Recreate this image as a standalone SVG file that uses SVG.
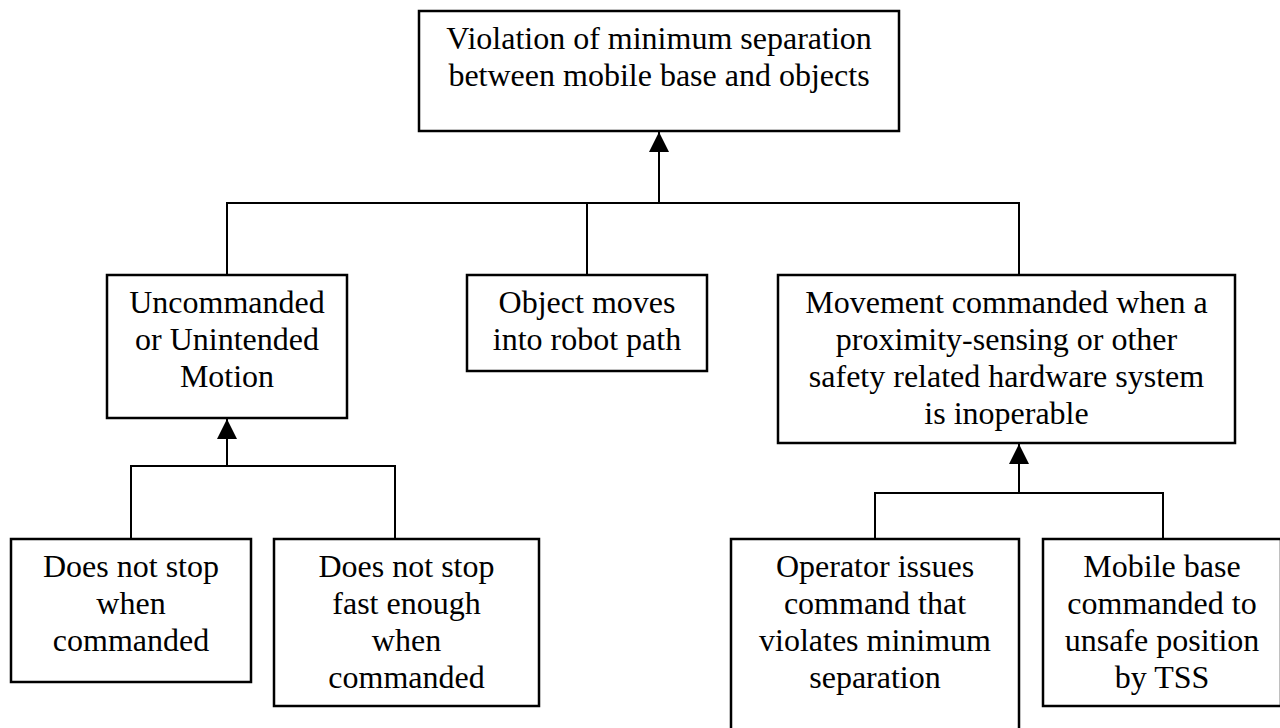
<svg xmlns="http://www.w3.org/2000/svg" width="1280" height="728" viewBox="0 0 1280 728">
  <defs>
    <style>
      .box { fill: #ffffff; stroke: #000000; stroke-width: 2.5; }
      .line { fill: none; stroke: #000000; stroke-width: 2; }
      .label { font-family: "Liberation Serif", "Times New Roman", serif; font-size: 32px; fill: #000000; text-anchor: middle; }
    </style>
    <marker id="arrow" viewBox="0 0 20 20" refX="20" refY="10" markerWidth="20" markerHeight="20" markerUnits="userSpaceOnUse" orient="auto">
      <path d="M0,0 L20,10 L0,20 Z" fill="#000000"/>
    </marker>
  </defs>
  <rect width="1280" height="728" fill="#ffffff"/>

  <g id="connectors">
    <!-- top level: three causes joined to the top event -->
    <polyline class="line" points="227,275 227,203 1019,203 1019,275"/>
    <line class="line" x1="587" y1="203" x2="587" y2="275"/>
    <line class="line" x1="659" y1="203" x2="659" y2="132" marker-end="url(#arrow)"/>
    <!-- uncommanded motion branch -->
    <polyline class="line" points="131,539 131,466 395,466 395,539"/>
    <line class="line" x1="227" y1="466" x2="227" y2="419" marker-end="url(#arrow)"/>
    <!-- inoperable hardware branch -->
    <polyline class="line" points="875,539 875,493 1163,493 1163,539"/>
    <line class="line" x1="1019" y1="493" x2="1019" y2="444" marker-end="url(#arrow)"/>
  </g>

  <g id="top-event">
    <rect class="box" x="419" y="11" width="480" height="120"/>
    <text class="label" x="659" y="49">Violation of minimum separation</text>
    <text class="label" x="659" y="86">between mobile base and objects</text>
  </g>

  <g id="uncommanded-motion">
    <rect class="box" x="107" y="275" width="240" height="143"/>
    <text class="label" x="227" y="313">Uncommanded</text>
    <text class="label" x="227" y="350">or Unintended</text>
    <text class="label" x="227" y="387">Motion</text>
  </g>

  <g id="object-moves">
    <rect class="box" x="467" y="275" width="240" height="96"/>
    <text class="label" x="587" y="313">Object moves</text>
    <text class="label" x="587" y="350">into robot path</text>
  </g>

  <g id="hardware-inoperable">
    <rect class="box" x="778" y="275" width="457" height="168"/>
    <text class="label" x="1006.5" y="313">Movement commanded when a</text>
    <text class="label" x="1006.5" y="350">proximity-sensing or other</text>
    <text class="label" x="1006.5" y="387">safety related hardware system</text>
    <text class="label" x="1006.5" y="424">is inoperable</text>
  </g>

  <g id="no-stop">
    <rect class="box" x="11" y="539" width="240" height="143"/>
    <text class="label" x="131" y="577">Does not stop</text>
    <text class="label" x="131" y="614">when</text>
    <text class="label" x="131" y="651">commanded</text>
  </g>

  <g id="no-stop-fast">
    <rect class="box" x="274" y="539" width="265" height="167"/>
    <text class="label" x="406.5" y="577">Does not stop</text>
    <text class="label" x="406.5" y="614">fast enough</text>
    <text class="label" x="406.5" y="651">when</text>
    <text class="label" x="406.5" y="688">commanded</text>
  </g>

  <g id="operator-command">
    <rect class="box" x="731" y="539" width="288" height="200"/>
    <text class="label" x="875" y="577">Operator issues</text>
    <text class="label" x="875" y="614">command that</text>
    <text class="label" x="875" y="651">violates minimum</text>
    <text class="label" x="875" y="688">separation</text>
  </g>

  <g id="tss-command">
    <rect class="box" x="1043" y="539" width="238" height="167"/>
    <text class="label" x="1162" y="577">Mobile base</text>
    <text class="label" x="1162" y="614">commanded to</text>
    <text class="label" x="1162" y="651">unsafe position</text>
    <text class="label" x="1162" y="688">by TSS</text>
  </g>
</svg>
